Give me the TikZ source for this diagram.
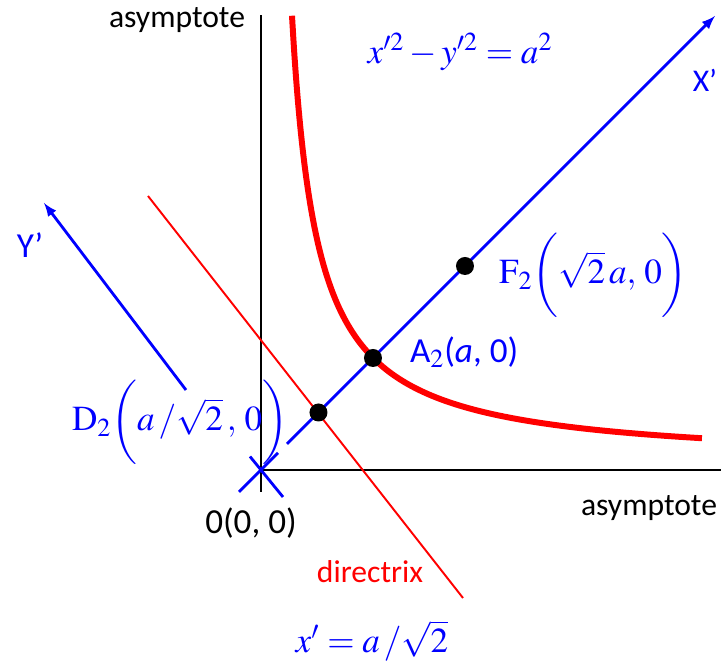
\documentclass[tikz,border=0pt]{standalone}
\usepackage{mathptmx}
\usepackage{fontspec}
\setmainfont{Liberation Serif}
\setsansfont{Carlito}
\begin{document}
\begin{tikzpicture}[>=latex,
    lbl/.style={font=\sffamily\fontsize{18}{21}\selectfont, inner sep=1pt},
    mlbl/.style={font=\fontsize{20}{24}\selectfont, text=blue, inner sep=1pt},
    pt/.style={circle, fill=black, inner sep=0pt, minimum size=0.36cm}]

    \useasboundingbox (-5.22,-3.92) rectangle (9.2,9.4);

    % 1. Hai tiệm cận
    \draw[line width=1.1pt, black] (0,-0.44) -- (0,9.1);
    \draw[line width=1.1pt, black] (0,0) -- (9.2,0);

    % Gốc tọa độ (dấu chéo)
    \coordinate (O) at (0,0);
    \draw[line width=1.6pt, blue] (-0.44,-0.44) -- (0.34,0.34);
    \draw[line width=1.6pt, blue] (-0.22,0.27) -- (0.44,-0.54);

    % 2. Trục X', Y'
    \draw[->, line width=1.6pt, blue] (0.52,0.52) -- (9.08,9.08);
    \draw[->, line width=1.6pt, blue] (-1.5,1.6) -- (-4.34,5.34);

    % 3. Nhánh hypebol
    \draw[line width=3.4pt, red, smooth, domain=0.62:8.82, samples=200]
        plot (\x, {0.116 + 4.52/(\x-0.116)});

    % 4. Đường chuẩn
    \draw[line width=1.1pt, red] (-2.26,5.48) -- (4.04,-2.56);

    % 5. Các điểm D2, A2, F2
    \node[pt] (D2) at (1.15,1.15) {};
    \node[pt] (A2) at (2.24,2.24) {};
    \node[pt] (F2) at (4.08,4.08) {};

    % 6. Nhãn
    \node[lbl] at (-1.68,9.0) {asymptote};
    \node[lbl] at (7.76,-0.76) {asymptote};
    \node[lbl, font=\sffamily\fontsize{20}{24}\selectfont] at (-0.2,-1.06) {0(0, 0)};
    \node[lbl, text=red] at (2.18,-2.04) {directrix};
    \node[lbl, text=blue] at (8.88,7.8) {X’};
    \node[lbl, text=blue, font=\sffamily\fontsize{20}{24}\selectfont] at (-4.62,4.5) {Y’};
    \node[lbl, text=blue, font=\sffamily\fontsize{20}{24}\selectfont, anchor=west] at (2.94,2.36) {A$_2$(\textit{a}, 0)};

    \node[mlbl] at (3.98,8.36) {$x'^2 - y'^2 = a^2$};
    \node[mlbl] at (2.22,-3.42) {$x' = a \,/ \sqrt{2}$};
    \node[mlbl, anchor=west] at (4.72,3.9) {$\mathrm{F}_2\bigg(\sqrt{2}\,a,\, 0\bigg)$};
    \node[mlbl] at (-1.62,0.96) {$\mathrm{D}_2\bigg(a \,/ \sqrt{2}\,,\, 0\bigg)$};

\end{tikzpicture}
\end{document}
